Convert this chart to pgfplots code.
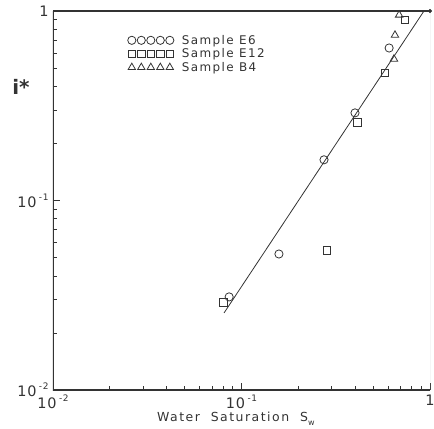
\documentclass[border=0pt]{standalone}
\usepackage{fontspec}
\setmainfont{DejaVu Sans}
\newfontfamily\hershey[LetterSpace=6]{DejaVu Sans}
\newfontfamily\legfont[LetterSpace=12]{DejaVu Sans}
\usepackage{pgfplots}
\pgfplotsset{compat=1.18}
\definecolor{ink}{HTML}{333333}
\newcommand\tl[1]{10\,\raisebox{0.5em}{\fontsize{9}{9}\selectfont #1}}
\begin{document}
\begin{tikzpicture}
\begin{axis}[
  scale only axis, width=377bp, height=379bp,
  xmode=log, ymode=log,
  xmin=0.01, xmax=1, ymin=0.01, ymax=1,
  axis line style={draw=none},
  tick align=inside, xtick pos=bottom, ytick pos=left,
  major tick length=7bp, minor tick length=4bp,
  every tick/.style={ink, line width=0.8pt},
  xtick={0.01,0.1,1}, ytick={0.01,0.1,1},
  minor xtick={0.02,0.03,0.04,0.05,0.06,0.07,0.08,0.09,0.2,0.3,0.4,0.5,0.6,0.7,0.8,0.9},
  minor ytick={0.02,0.03,0.04,0.05,0.06,0.07,0.08,0.09,0.2,0.3,0.4,0.5,0.6,0.7,0.8,0.9},
  xticklabels={\tl{-2},\tl{-1},1},
  yticklabels={\tl{-2},\tl{-1},1},
  ticklabel style={font=\fontsize{14.5}{15}\hershey, text=ink},
  xticklabel style={yshift=-1bp},
  yticklabel style={xshift=-1bp},
  xlabel={Water\ \ Saturation\ \ S\raisebox{-0.3em}{\fontsize{8}{8}\selectfont w}},
  every axis x label/.style={at={(rel axis cs:0.485,0)}, yshift=-29bp, anchor=center, font=\fontsize{12.5}{13}\legfont, text=ink},
  ylabel={i*},
  every axis y label/.style={at={(rel axis cs:-0.085,0.8)}, anchor=center, font=\fontsize{20}{22}\bfseries, text=ink},
  legend style={draw=none, fill=none, at={(rel axis cs:0.195,0.945)}, anchor=north west,
    font=\fontsize{12}{13}\legfont, text=ink, row sep=-1pt, inner sep=1pt,
    nodes={inner xsep=4pt}},
  legend cell align=left,
  legend image code/.code={\draw[#1] plot coordinates {(0bp,0bp) (9.5bp,0bp) (19bp,0bp) (28.5bp,0bp) (38bp,0bp)};
    \path[draw=none] (-4bp,0bp) (46bp,0bp);},
]
\draw[ink, line width=1.2pt] (rel axis cs:0,1) -- (rel axis cs:0,0) -- (rel axis cs:1,0);
\draw[ink, line width=1.2pt] (rel axis cs:0,1) -- (rel axis cs:1,1);
\draw[black!30, line width=0.6pt] (rel axis cs:1,0) -- (rel axis cs:1,1);

\addplot[ink, line width=0.8pt, forget plot] coordinates {(0.0808,0.0255) (0.929,1.0)};

\addplot[only marks, mark=o, mark size=4.1bp, ink, line width=0.8pt] coordinates {
  (0.0860,0.031) (0.158,0.0522) (0.274,0.164) (0.400,0.290) (0.607,0.638)};
\addlegendentry{Sample\ E6}
\addplot[only marks, mark=square, mark size=3.9bp, ink, line width=0.8pt] coordinates {
  (0.0798,0.0291) (0.284,0.0548) (0.410,0.259) (0.577,0.471) (0.736,0.898)};
\addlegendentry{Sample\ E12}
\addplot[only marks, mark=triangle, mark size=4.3bp, ink, line width=0.8pt] coordinates {
  (0.686,0.953) (0.652,0.746) (0.644,0.558)};
\addlegendentry{Sample\ B4}

\addplot[only marks, mark=*, mark size=1.8bp, ink, forget plot] coordinates {(1,1)};
\end{axis}
\path (current axis.south west) ++(-53bp,-39bp) coordinate (bbA);
\path (current axis.north east) ++(4bp,11bp) coordinate (bbB);
\pgfresetboundingbox
\path (bbA) rectangle (bbB);
\end{tikzpicture}
\end{document}
